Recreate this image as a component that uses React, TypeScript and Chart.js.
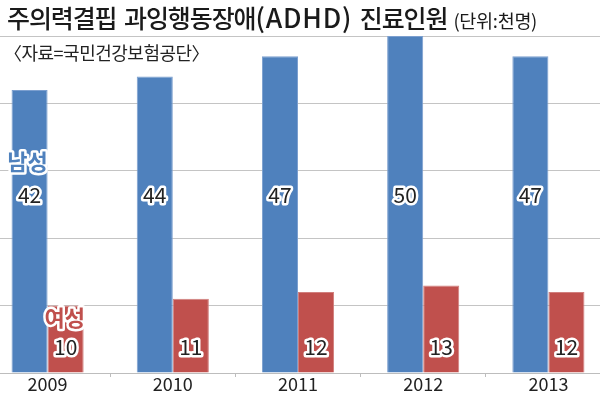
import React, { useEffect, useRef } from 'react';
import { Chart, registerables } from 'chart.js';

Chart.register(...registerables);

const years = ['2009', '2010', '2011', '2012', '2013'];
const maleValues = [42, 44, 47, 50, 47];
const femaleValues = [10, 11, 12, 13, 12];
const seriesNames = ['남성', '여성'];
const titleHead = '주의력결핍 과잉행동장애';
const titleAbbr = '(ADHD)';
const titleTail = ' 진료인원';
const unitText = '(단위:천명)';
const sourceText = '〈자료=국민건강보험공단〉';
const yMin = 0;
const yMax = 50;
const yStep = 10;

const BLUE = '#4F81BD';
const RED = '#C0504D';
const KFONT = '"Noto Sans CJK KR", "Noto Sans", sans-serif';

function outlinedText(ctx: CanvasRenderingContext2D, text: string, x: number, y: number, fill: string, font: string, strokeW: number) {
  ctx.save();
  ctx.font = font;
  ctx.textAlign = 'center';
  ctx.textBaseline = 'middle';
  ctx.lineJoin = 'round';
  ctx.strokeStyle = '#ffffff';
  ctx.lineWidth = strokeW;
  ctx.strokeText(text, x, y);
  ctx.fillStyle = fill;
  ctx.fillText(text, x, y);
  ctx.restore();
}

const labelPlugin = {
  id: 'barLabels',
  afterDatasetsDraw(chart: any) {
    const ctx = chart.ctx as CanvasRenderingContext2D;
    const yScale = chart.scales.y;
    const numFont = '400 21px ' + KFONT;
    const nameFont = '700 22px ' + KFONT;
    const maleMeta = chart.getDatasetMeta(0);
    const femaleMeta = chart.getDatasetMeta(1);
    const maleY = yScale.getPixelForValue(26.4);
    const femaleY = yScale.getPixelForValue(3.9);
    maleMeta.data.forEach((el: any, i: number) => {
      outlinedText(ctx, String(maleValues[i]), el.x, maleY, '#222222', numFont, 5);
    });
    femaleMeta.data.forEach((el: any, i: number) => {
      outlinedText(ctx, String(femaleValues[i]), el.x, femaleY, '#222222', numFont, 5);
    });
    const m0 = maleMeta.data[0];
    const f0 = femaleMeta.data[0];
    outlinedText(ctx, seriesNames[0], m0.x - 2, yScale.getPixelForValue(31.4), BLUE, nameFont, 5);
    outlinedText(ctx, seriesNames[1], f0.x - 1, yScale.getPixelForValue(8.2), RED, nameFont, 5);
  },
};

export default function App() {
  const ref = useRef<HTMLCanvasElement>(null);
  useEffect(() => {
    if (!ref.current) return;
    const chart = new Chart(ref.current, {
      type: 'bar',
      data: {
        labels: years,
        datasets: [
          {
            label: seriesNames[0],
            data: maleValues,
            backgroundColor: BLUE,
            borderColor: '#7C9FCF',
            borderWidth: 1,
            categoryPercentage: 0.576,
            barPercentage: 1,
          },
          {
            label: seriesNames[1],
            data: femaleValues,
            backgroundColor: RED,
            borderColor: '#D17F7D',
            borderWidth: 1,
            categoryPercentage: 0.576,
            barPercentage: 1,
          },
        ],
      },
      options: {
        animation: false,
        responsive: false,
        maintainAspectRatio: false,
        layout: { padding: { top: 36, left: 0, right: 0, bottom: 0 } },
        plugins: {
          legend: { display: false },
          tooltip: { enabled: false },
          title: { display: false },
        },
        scales: {
          x: {
            grid: {
              display: true,
              drawOnChartArea: false,
              drawTicks: true,
              tickLength: 4,
              color: '#bdbdbd',
              offset: true,
            },
            border: { display: true, color: '#bdbdbd', width: 1 },
            ticks: {
              color: '#222222',
              font: { size: 18, family: KFONT },
              padding: -4,
              maxRotation: 0,
            },
            afterFit: (a: any) => {
              a.height = 22;
            },
          },
          y: {
            min: yMin,
            max: yMax,
            ticks: { stepSize: yStep, display: false },
            grid: { color: '#c4c4c4', drawTicks: false, lineWidth: 1 },
            border: { display: false },
            afterFit: (a: any) => {
              a.width = 0;
            },
          },
        },
      },
      plugins: [labelPlugin],
    });
    return () => chart.destroy();
  }, []);

  return (
    <div
      style={{
        position: 'fixed',
        left: 0,
        top: 0,
        width: 600,
        height: 395,
        overflow: 'hidden',
        background: '#ffffff',
      }}
    >
      <canvas
        ref={ref}
        width={626}
        height={395}
        style={{ position: 'absolute', left: -15, top: 0, width: 626, height: 395 }}
      />
      <div
        style={{
          position: 'absolute',
          left: 7,
          top: 0,
          fontFamily: KFONT,
          fontSize: 25,
          fontWeight: 500,
          letterSpacing: -1.1,
          wordSpacing: 3,
          color: '#1a1a1a',
          whiteSpace: 'pre',
          lineHeight: '34px',
        }}
      >
        {titleHead}
        <span style={{ fontSize: 26.5, letterSpacing: 0.8 }}>{titleAbbr}</span>
        {titleTail}
        <span style={{ fontSize: 18.5, fontWeight: 400, letterSpacing: -0.3, marginLeft: 6, wordSpacing: 0 }}>{unitText}</span>
      </div>
      <div
        style={{
          position: 'absolute',
          left: 4,
          top: 40,
          fontFamily: KFONT,
          fontSize: 18,
          letterSpacing: -0.5,
          color: '#222222',
          whiteSpace: 'nowrap',
          lineHeight: '24px',
        }}
      >
        {sourceText}
      </div>
    </div>
  );
}
